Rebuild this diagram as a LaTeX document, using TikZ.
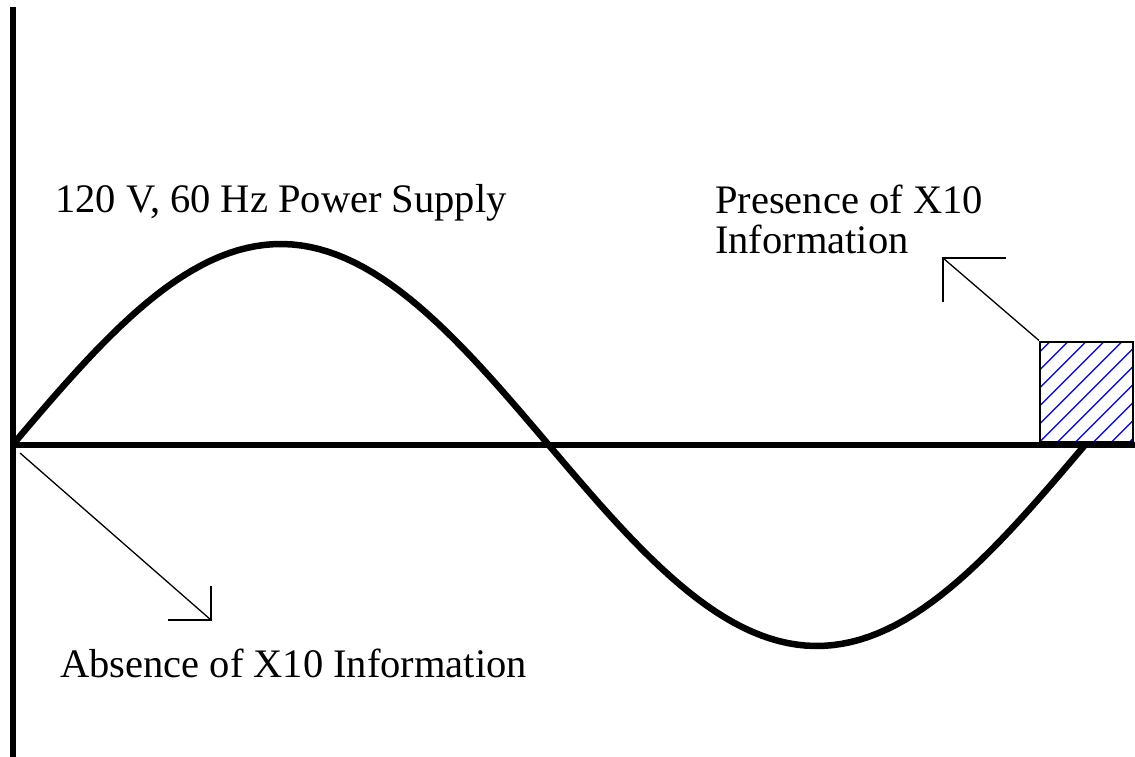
\documentclass[tikz,border=0pt]{standalone}
\usepackage{fontspec}
\setmainfont{Liberation Serif}
\usepackage{tikz}
\usetikzlibrary{calc}
\definecolor{mydark}{RGB}{0,0,0}
\definecolor{myblue}{RGB}{20,20,200}
\tikzset{
  axis/.style={line width=6pt, color=mydark},
  wave/.style={line width=6.5pt, color=mydark},
  pointer/.style={line width=1.3pt, color=mydark},
  hatch/.style={line width=1.4pt, color=myblue},
  label/.style={anchor=base west, inner sep=0pt, align=left,
    font=\fontsize{40.5}{40}\selectfont},
  databox/.style={draw=mydark, line width=2pt, minimum width=93pt,
    minimum height=100pt, inner sep=0pt,
    path picture={\foreach \i in {-6,...,5} {
      \draw[hatch] ([xshift=\i*18pt]path picture bounding box.south west) -- ++(130pt,130pt);}}}
}
\begin{document}
\begin{tikzpicture}[x=1pt, y=-1pt]
  \useasboundingbox (0,0) rectangle (1135,757);

  % Place axes
  \coordinate (origin) at (12.5,445);
  \coordinate (ytop) at (12.5,7);
  \coordinate (ybot) at (12.5,757);
  \coordinate (xend) at (1135,445);
  \draw[axis] (ytop) -- (ybot);
  \draw[axis] (origin) -- (xend);

  % Draw the supply wave
  \draw[wave] plot[domain=0:360, samples=120] ({12.5+\x*2.979}, {445-201*sin(\x)});

  % Place the data burst
  \node[databox] (burst) at (1086.5,391.5) {};

  % Place labels
  \node[label] (supply) at (55,212) {120 V, 60 Hz Power Supply};
  \node[label] (presence) at (715,253) {Presence of X10\\Information};
  \node[label] (absence) at (60,677) {Absence of X10 Information};

  % Draw pointers
  \coordinate (absstart) at (20,453);
  \coordinate (abstip) at (211,620);
  \draw[pointer] (absstart) -- (abstip);
  \draw[pointer] ($(abstip)+(-43,0)$) -- (abstip) -- ($(abstip)+(0,-34)$);

  \coordinate (prestip) at (943,258);
  \draw[pointer] (burst.north west) -- (prestip);
  \draw[pointer] ($(prestip)+(63,0)$) -- (prestip) -- ($(prestip)+(0,44)$);
\end{tikzpicture}
\end{document}
